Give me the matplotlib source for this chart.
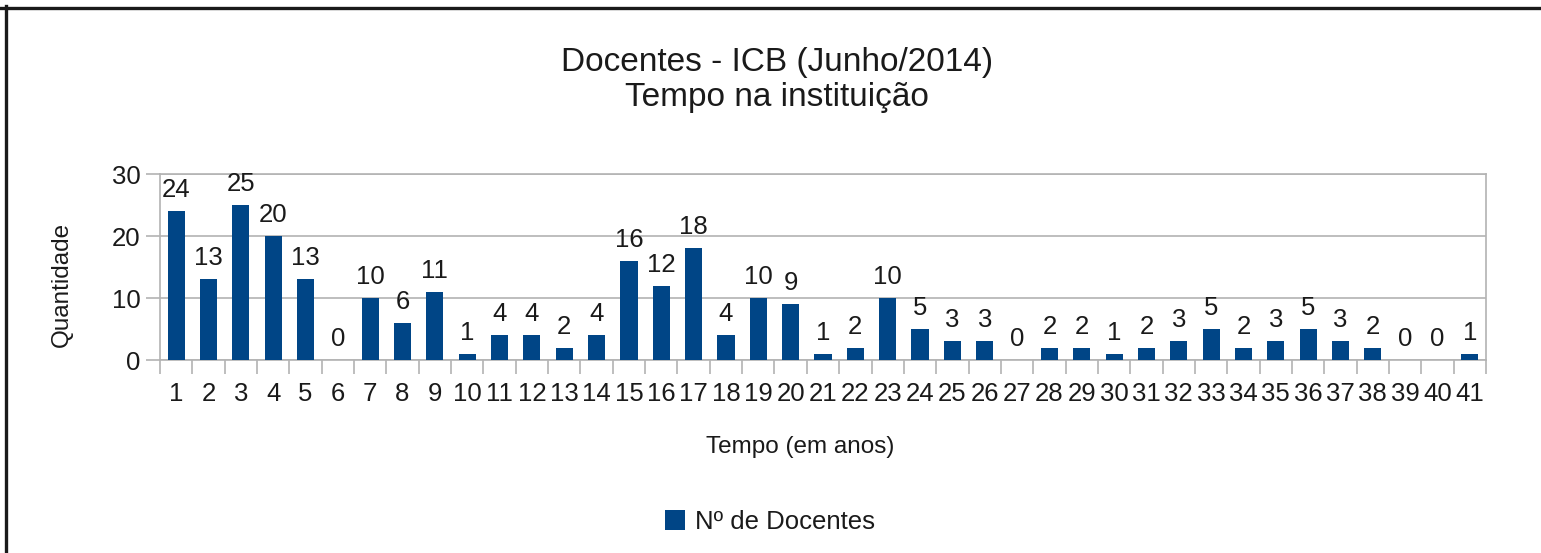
import matplotlib
matplotlib.use('Agg')
import matplotlib.pyplot as plt
from matplotlib.lines import Line2D
import numpy as np

plt.rcParams['font.family'] = ['Liberation Sans', 'DejaVu Sans']

# dados
anos = list(range(1, 42))
docentes = [24, 13, 25, 20, 13, 0, 10, 6, 11, 1, 4, 4, 2, 4, 16, 12, 18, 4, 10, 9, 1,
            2, 10, 5, 3, 3, 0, 2, 2, 1, 2, 3, 5, 2, 3, 5, 3, 2, 0, 0, 1]
yticks = [0, 10, 20, 30]

W, H = 1541, 553
bar_color = '#004586'
text_color = '#1a1a1a'
grid_color = '#b3b3b3'

fig = plt.figure(figsize=(W / 100, H / 100), dpi=100)
ax = fig.add_axes([160 / W, (H - 360) / H, (1486 - 160) / W, (360 - 174) / H])

x = np.array(anos)
bars = ax.bar(x, docentes, width=0.53, color=bar_color, label='Nº de Docentes', zorder=3)
for xi, v in zip(x, docentes):
    ax.annotate(str(v), (xi, v), xytext=(0, 9), textcoords='offset pixels',
                ha='center', va='bottom', fontsize=18.5, color=text_color)

ax.set_xlim(0.5, len(anos) + 0.5)
ax.set_ylim(0, 30)
ax.set_yticks(yticks)
ax.set_xticks(x)
ax.set_xticklabels([str(a) for a in anos])
ax.set_xticks(np.arange(0.5, len(anos) + 1, 1), minor=True)
ax.tick_params(axis='x', which='major', length=0, pad=16, labelsize=18.5, labelcolor=text_color)
ax.tick_params(axis='x', which='minor', length=10, color=grid_color, width=1.2)
ax.tick_params(axis='y', length=10, color=grid_color, width=1.2, pad=4,
               labelsize=18.5, labelcolor=text_color)
ax.grid(axis='y', color=grid_color, linewidth=1.2, zorder=0)
for s in ax.spines.values():
    s.set_color(grid_color)
    s.set_linewidth(1.2)

fig.text(62 / W, 1 - 284 / H, 'Quantidade', rotation=90, ha='center', va='center',
         fontsize=17.5, color=text_color)
fig.text(800 / W, 1 - 447 / H, 'Tempo (em anos)', ha='center', va='center',
         fontsize=17.5, color=text_color)

fig.text(777 / W, 1 - 80 / H, 'Docentes - ICB (Junho/2014)\nTempo na instituição',
         ha='center', va='center', fontsize=24, color=text_color, linespacing=1.15)

fig.legend(handles=[bars], labels=['Nº de Docentes'], loc='center',
           bbox_to_anchor=(770 / W, 1 - 522 / H), frameon=False, fontsize=18.5,
           handlelength=0.8, handleheight=0.8, handletextpad=0.4, labelcolor=text_color)

# moldura
fig.add_artist(Line2D([0, 1], [1 - 7.5 / H, 1 - 7.5 / H], color='#1a1a1a', linewidth=2.4))
fig.add_artist(Line2D([5.5 / W, 5.5 / W], [0, 1 - 6 / H], color='#1a1a1a', linewidth=2.4))

fig.savefig('out.png', dpi=100, facecolor='white')
